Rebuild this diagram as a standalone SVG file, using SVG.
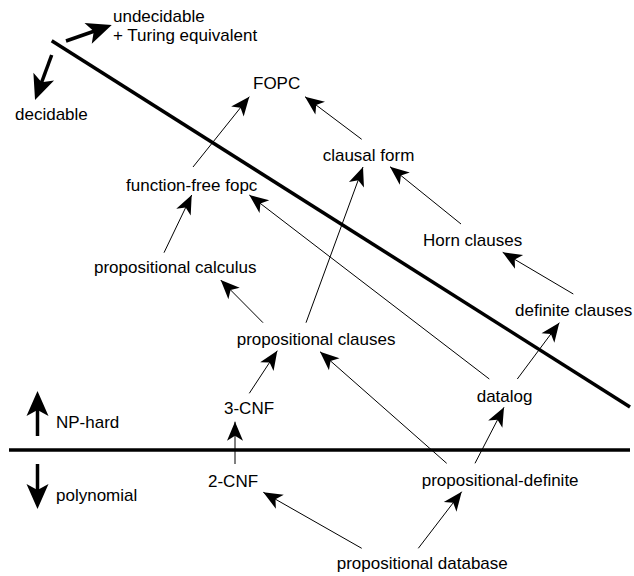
<svg xmlns="http://www.w3.org/2000/svg" width="634" height="576" viewBox="0 0 634 576">
<style>
text { font-family: "Liberation Sans", Arial, sans-serif; font-size: 17px; fill: #000; }
.thin { stroke: #000; stroke-width: 1; fill: none; marker-end: url(#ah); }
.thickarrow { stroke: #000; stroke-width: 3.5; fill: none; marker-end: url(#bigah); }
.divider { stroke: #000; stroke-width: 3.5; fill: none; }
</style>
<defs>
<marker id="ah" markerUnits="userSpaceOnUse" viewBox="-20 -9 21 18" refX="0" refY="0" markerWidth="21" markerHeight="18" orient="auto">
<path d="M0,0 L-19,-8 L-14,0 L-19,8 Z" fill="#000"/>
</marker>
<marker id="bigah" markerUnits="userSpaceOnUse" viewBox="-26 -12 27 24" refX="-12" refY="0" markerWidth="27" markerHeight="24" orient="auto">
<path d="M0,0 L-25,-11 L-19,0 L-25,11 Z" fill="#000"/>
</marker>
</defs>
<g id="dividers">
<line class="divider" x1="51.7" y1="40.7" x2="630" y2="407"/>
<line class="divider" x1="9" y1="450" x2="630" y2="450"/>
</g>
<g id="legend">
<line class="thickarrow" x1="66" y1="41" x2="100.4" y2="29"/>
<line class="thickarrow" x1="51.7" y1="55" x2="39.2" y2="88.8"/>
<line class="thickarrow" x1="37.5" y1="436" x2="37.5" y2="403"/>
<line class="thickarrow" x1="37.5" y1="464" x2="37.5" y2="497"/>
<text x="113" y="22">undecidable</text>
<text x="113" y="40.5">+ Turing equivalent</text>
<text x="15" y="120">decidable</text>
<text x="56" y="428">NP-hard</text>
<text x="56" y="501">polynomial</text>
</g>
<g id="connectors">
<line class="thin" x1="193" y1="167" x2="249.3" y2="96.7"/>
<line class="thin" x1="361.7" y1="139.3" x2="305" y2="96.7"/>
<line class="thin" x1="461" y1="224" x2="390" y2="166.7"/>
<line class="thin" x1="306" y1="322.7" x2="363" y2="167"/>
<line class="thin" x1="164" y1="252.7" x2="191.7" y2="195"/>
<line class="thin" x1="489.3" y1="379" x2="249.3" y2="195"/>
<line class="thin" x1="573.3" y1="294" x2="502.7" y2="252.3"/>
<line class="thin" x1="263" y1="322.7" x2="220.7" y2="280"/>
<line class="thin" x1="517.3" y1="379" x2="559.3" y2="322.7"/>
<line class="thin" x1="249.3" y1="393.3" x2="277.3" y2="350.7"/>
<line class="thin" x1="235" y1="464" x2="235" y2="421.7"/>
<line class="thin" x1="446.7" y1="463.3" x2="320" y2="351.7"/>
<line class="thin" x1="475" y1="463.3" x2="504" y2="407.3"/>
<line class="thin" x1="361.7" y1="548.3" x2="263.3" y2="492.3"/>
<line class="thin" x1="418.3" y1="548.3" x2="461.7" y2="491.7"/>
</g>
<g id="fopc"><text x="253" y="89">FOPC</text></g>
<g id="clausal-form"><text x="322.7" y="160.5">clausal form</text></g>
<g id="function-free-fopc"><text x="126" y="191">function-free fopc</text></g>
<g id="horn-clauses"><text x="423" y="246">Horn clauses</text></g>
<g id="propositional-calculus"><text x="94" y="273">propositional calculus</text></g>
<g id="definite-clauses"><text x="515" y="316">definite clauses</text></g>
<g id="propositional-clauses"><text x="236.7" y="345">propositional clauses</text></g>
<g id="datalog"><text x="476.7" y="402">datalog</text></g>
<g id="cnf3"><text x="224" y="414">3-CNF</text></g>
<g id="cnf2"><text x="208" y="487">2-CNF</text></g>
<g id="propositional-definite"><text x="421.7" y="486">propositional-definite</text></g>
<g id="propositional-database"><text x="336.7" y="569">propositional database</text></g>
</svg>
